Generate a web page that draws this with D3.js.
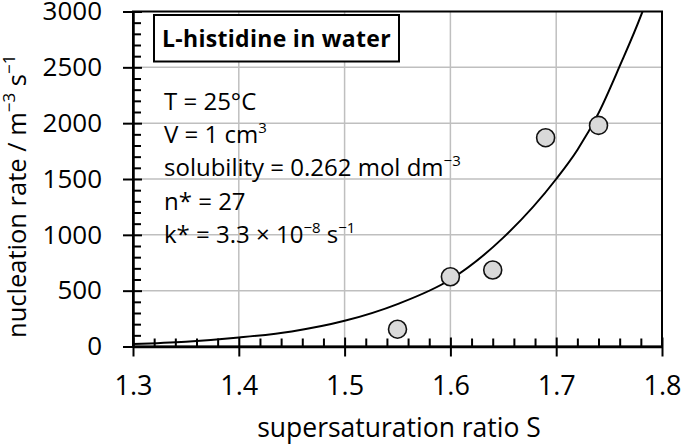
<!DOCTYPE html>
<meta charset="utf-8">
<head>
<style>
  body { margin: 0; background: #fff; }
  svg text { font-family: "Open Sans", Lato, sans-serif; fill: #000; }
  .grid line { stroke: #bfbfbf; stroke-width: 1.5; }
</style>
<title>L-histidine nucleation rate</title>
</head>
<svg width="682" height="445"></svg>
<script src="https://cdn.jsdelivr.net/npm/d3@7"></script>
<script>

// data
var xTicks = [1.3, 1.4, 1.5, 1.6, 1.7, 1.8];
var yTicks = [0, 500, 1000, 1500, 2000, 2500, 3000];
var pointS = [1.55, 1.60, 1.64, 1.69, 1.74];
var pointJ = [155, 625, 685, 1870, 1980];
var curveS = [1.30, 1.35, 1.40, 1.45, 1.50, 1.55, 1.60, 1.65, 1.70, 1.72, 1.74, 1.76, 1.78, 1.79];
var curveJ = [22, 42, 80, 135, 230, 380, 600, 975, 1500, 1760, 2090, 2510, 2960, 3220];
var notes = [
  ["T = 25°C"],
  ["V = 1 cm", "3"],
  ["solubility = 0.262 mol dm", "−3"],
  ["n* = 27"],
  ["k* = 3.3 × 10", "−8", " s", "−1"]
];

var svg = d3.select("svg");
var pLeft = 133, pRight = 662, pTop = 11.5, pBottom = 346.5;

var x = d3.scaleLinear().domain([1.3, 1.8]).range([pLeft, pRight]);
var y = d3.scaleLinear().domain([0, 3000]).range([pBottom, pTop]);

// grid
var grid = svg.append("g").attr("class", "grid");
grid.selectAll(".gx").data(xTicks.slice(1, -1)).enter().append("line")
    .attr("x1", function(d) { return x(d); }).attr("x2", function(d) { return x(d); })
    .attr("y1", pTop).attr("y2", pBottom);
grid.selectAll(".gy").data(yTicks.slice(1, -1)).enter().append("line")
    .attr("x1", pLeft).attr("x2", pRight)
    .attr("y1", function(d) { return y(d); }).attr("y2", function(d) { return y(d); });

svg.append("clipPath").attr("id", "clip").append("rect")
    .attr("x", pLeft).attr("y", pTop).attr("width", pRight - pLeft).attr("height", pBottom - pTop);

// annotation text
var noteG = svg.append("g");
notes.forEach(function(parts, i) {
  var t = noteG.append("text").attr("x", 164).attr("y", 110 + i * 33.2)
      .attr("font-size", "24px");
  parts.forEach(function(p, j) {
    var sup = j % 2 == 1;
    var ts = t.append("tspan").text(p);
    if (sup) ts.attr("font-size", "15px").attr("dy", -10);
    else if (j > 0) ts.attr("dy", 10);
  });
});

// title box
svg.append("rect").attr("x", 154).attr("y", 15).attr("width", 245).attr("height", 46.5)
    .attr("fill", "#fff").attr("stroke", "#000").attr("stroke-width", 2);
svg.append("text").attr("x", 276.5).attr("y", 47).attr("text-anchor", "middle")
    .attr("font-size", "23px").attr("font-weight", "bold").attr("letter-spacing", "0.3px")
    .text("L-histidine in water");

// fitted curve
var line = d3.line()
    .x(function(d) { return x(d[0]); })
    .y(function(d) { return y(d[1]); })
    .curve(d3.curveMonotoneX);
svg.append("path")
    .datum(d3.zip(curveS, curveJ))
    .attr("clip-path", "url(#clip)")
    .attr("fill", "none").attr("stroke", "#000").attr("stroke-width", 2)
    .attr("d", line);

// measured points
svg.selectAll(".pt").data(d3.zip(pointS, pointJ)).enter().append("circle")
    .attr("cx", function(d) { return x(d[0]); })
    .attr("cy", function(d) { return y(d[1]); })
    .attr("r", 9)
    .attr("fill", "#d9d9d9").attr("stroke", "#111").attr("stroke-width", 1.6);

// frame
svg.append("rect").attr("x", pLeft).attr("y", pTop).attr("width", pRight - pLeft).attr("height", pBottom - pTop)
    .attr("fill", "none").attr("stroke", "#000").attr("stroke-width", 2);

// x axis
var xMinor = d3.range(1.32, 1.8, 0.02).filter(function(v) { return Math.abs(v * 10 - Math.round(v * 10)) > 0.05; });
var gx = svg.append("g").attr("transform", "translate(0," + pBottom + ")");
gx.call(d3.axisBottom(x).tickValues(xMinor).tickSize(-8).tickFormat(""));
gx.selectAll("line").attr("stroke-width", 2);
gx.select(".domain").remove();
var gx2 = svg.append("g").attr("transform", "translate(0," + pBottom + ")")
    .call(d3.axisBottom(x).tickValues(xTicks).tickSizeInner(10).tickSizeOuter(0).tickPadding(19)
      .tickFormat(d3.format(".1f")));
gx2.selectAll(".tick line").attr("y1", -9).attr("stroke-width", 2);
gx2.select(".domain").attr("stroke-width", 2.5);
gx2.selectAll("text").attr("font-size", "27px").attr("font-family", "Open Sans");

// y axis
var yMinor = d3.range(100, 3000, 100).filter(function(v) { return v % 500 != 0; });
var gy = svg.append("g").attr("transform", "translate(" + pLeft + ",0)");
gy.call(d3.axisLeft(y).tickValues(yMinor).tickSize(-8).tickFormat(""));
gy.selectAll("line").attr("stroke-width", 2);
gy.select(".domain").remove();
var gy2 = svg.append("g").attr("transform", "translate(" + pLeft + ",0)")
    .call(d3.axisLeft(y).tickValues(yTicks).tickSizeInner(10).tickSizeOuter(0).tickPadding(21)
      .tickFormat(d3.format("d")));
gy2.selectAll(".tick line").attr("x1", 9).attr("stroke-width", 2);
gy2.select(".domain").attr("stroke-width", 2.5);
gy2.selectAll("text").attr("font-size", "26px").attr("font-family", "Open Sans");

// axis titles
svg.append("text").attr("x", 399).attr("y", 437).attr("text-anchor", "middle")
    .attr("font-size", "26.5px").text("supersaturation ratio S");

var yt = svg.append("text").attr("transform", "translate(26,338) rotate(-90)")
    .attr("font-size", "25.5px");
yt.append("tspan").text("nucleation rate / m");
yt.append("tspan").text("−3").attr("font-size", "17px").attr("dy", -11);
yt.append("tspan").text(" s").attr("dy", 11);
yt.append("tspan").text("−1").attr("font-size", "17px").attr("dy", -11);

</script>
